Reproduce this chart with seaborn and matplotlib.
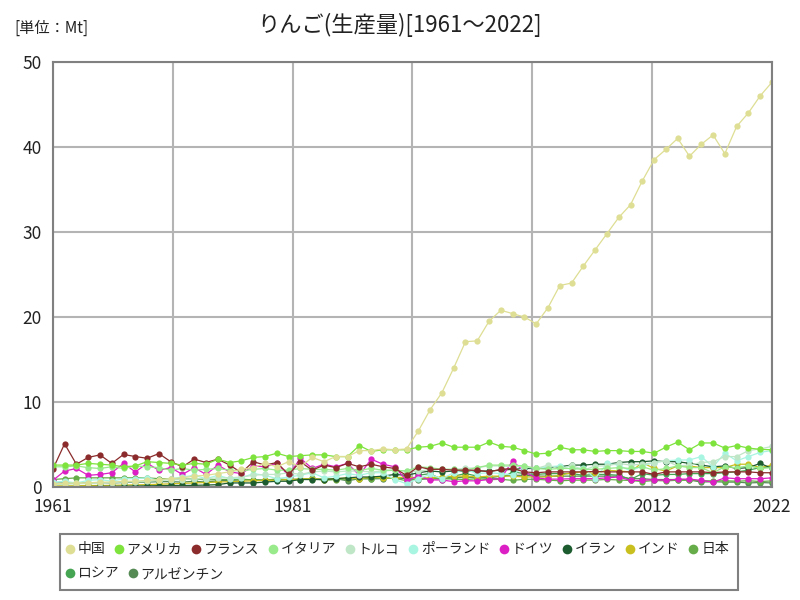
import matplotlib
matplotlib.use("Agg")
import matplotlib.pyplot as plt
from matplotlib.lines import Line2D
from matplotlib.patches import Rectangle
import seaborn as sns
import numpy as np
import pandas as pd

# Años del eje X
anios = list(range(1961, 2023))

# Series de producción (Mt)
china = [0.4, 0.45, 0.5, 0.5, 0.6, 0.6, 0.7, 0.7, 0.8, 0.9, 1.0, 1.1, 1.3, 1.4, 1.6, 1.8, 2.1, 2.3, 2.8, 2.4,
         3.0, 2.4, 3.5, 3.0, 3.6, 3.6, 4.3, 4.3, 4.5, 4.4, 4.5, 6.6, 9.1, 11.1, 14.0, 17.1, 17.2, 19.5, 20.8, 20.4,
         20.0, 19.2, 21.1, 23.7, 24.0, 26.0, 27.9, 29.8, 31.7, 33.2, 36.0, 38.5, 39.7, 41.0, 38.9, 40.3, 41.4, 39.2,
         42.4, 44.0, 46.0, 47.6]
america = [2.6, 2.6, 2.6, 2.8, 2.7, 2.6, 2.4, 2.5, 3.0, 2.9, 2.8, 2.6, 2.8, 2.7, 3.3, 2.9, 3.1, 3.5, 3.6, 4.0,
           3.6, 3.7, 3.8, 3.8, 3.6, 3.6, 4.9, 4.2, 4.4, 4.4, 4.4, 4.7, 4.8, 5.2, 4.7, 4.7, 4.7, 5.3, 4.8, 4.7,
           4.3, 3.9, 4.0, 4.7, 4.4, 4.4, 4.2, 4.3, 4.3, 4.2, 4.2, 4.0, 4.7, 5.3, 4.4, 5.2, 5.2, 4.6, 4.9, 4.6,
           4.45, 4.4]
francia = [2.1, 5.1, 2.7, 3.5, 3.8, 2.8, 3.85, 3.6, 3.4, 3.95, 3.0, 2.4, 3.3, 2.9, 3.3, 2.6, 1.7, 3.0, 2.6, 2.9,
           1.5, 3.0, 2.0, 2.6, 2.3, 2.8, 2.4, 2.7, 2.4, 2.2, 1.4, 2.4, 2.1, 2.1, 2.0, 2.0, 2.0, 1.8, 2.1, 2.2,
           1.8, 1.7, 1.8, 1.8, 1.8, 1.8, 1.85, 1.8, 1.8, 1.8, 1.8, 1.5, 1.8, 1.8, 1.8, 1.8, 1.7, 1.8, 1.8, 1.8,
           1.7, 1.7]
italia = [2.4, 2.4, 2.5, 2.3, 2.2, 2.4, 2.2, 2.5, 2.4, 2.3, 2.0, 2.2, 2.0, 2.1, 2.2, 2.0, 1.9, 2.1, 2.2, 2.0,
          2.0, 2.2, 2.1, 2.1, 2.0, 2.2, 2.0, 2.2, 2.0, 2.0, 1.9, 2.4, 2.3, 2.1, 2.1, 2.0, 2.3, 2.6, 2.6, 2.6,
          2.5, 2.2, 2.1, 2.2, 2.2, 2.1, 2.1, 2.2, 2.3, 2.2, 2.4, 2.0, 2.2, 2.5, 2.3, 2.3, 1.7, 2.4, 2.3, 2.5,
          2.2, 2.3]
turquia = [0.3, 0.35, 0.4, 0.45, 0.5, 0.55, 0.6, 0.65, 0.7, 0.8, 0.85, 0.9, 1.0, 1.0, 1.1, 1.1, 1.2, 1.4, 1.5, 1.5,
           1.7, 1.5, 1.8, 1.9, 1.8, 1.9, 1.9, 1.8, 1.9, 2.0, 1.9, 1.85, 2.1, 2.1, 2.1, 2.2, 2.3, 2.5, 2.5, 2.4,
           2.45, 2.2, 2.6, 2.1, 2.6, 2.0, 2.5, 2.5, 2.8, 2.6, 2.7, 2.9, 3.1, 2.5, 2.6, 2.9, 3.0, 3.6, 3.6, 4.3,
           4.5, 4.8]
polonia = [0.6, 0.7, 0.5, 0.8, 0.9, 0.7, 1.0, 1.0, 1.1, 0.8, 1.0, 1.2, 1.4, 1.0, 1.4, 1.0, 1.1, 1.6, 1.4, 1.0,
           1.2, 1.4, 1.7, 1.1, 1.3, 1.6, 1.4, 1.7, 1.7, 0.9, 0.4, 1.0, 1.5, 1.0, 1.7, 2.1, 1.6, 1.7, 1.6, 1.45,
           2.4, 2.2, 2.4, 2.5, 2.1, 2.3, 1.0, 2.8, 2.6, 1.9, 2.5, 2.9, 3.1, 3.2, 3.2, 3.6, 2.4, 4.0, 3.1, 3.6,
           4.1, 4.3]
alemania = [0.8, 1.9, 2.2, 1.4, 1.5, 1.7, 2.8, 1.8, 2.8, 2.0, 2.3, 1.5, 2.3, 1.5, 2.6, 1.8, 1.6, 2.5, 2.4, 2.8,
            1.4, 3.4, 2.2, 2.7, 2.4, 2.8, 1.4, 3.3, 2.7, 2.4, 0.8, 1.3, 0.85, 0.85, 0.65, 0.75, 0.75, 0.9, 1.0, 3.1,
            1.8, 1.1, 0.95, 0.95, 1.0, 1.0, 1.0, 1.1, 1.2, 0.8, 0.8, 0.9, 0.8, 0.95, 0.95, 0.8, 0.6, 1.1, 1.0, 1.0,
            1.0, 1.1]
iran = [0.05, 0.06, 0.07, 0.08, 0.09, 0.1, 0.12, 0.14, 0.16, 0.18, 0.2, 0.2, 0.22, 0.25, 0.3, 0.5, 0.5, 0.5, 0.6, 0.7,
        0.7, 0.9, 0.9, 0.9, 1.0, 1.1, 1.2, 1.2, 1.3, 1.5, 1.4, 1.7, 1.9, 1.8, 1.9, 1.9, 1.9, 1.9, 2.0, 2.1,
        2.2, 2.2, 2.3, 2.4, 2.6, 2.6, 2.7, 2.7, 2.9, 3.0, 3.0, 3.1, 3.0, 3.0, 2.8, 2.6, 2.4, 2.5, 2.2, 2.3,
        2.8, 2.2]
india = [0.15, 0.16, 0.17, 0.2, 0.2, 0.22, 0.25, 0.28, 0.3, 0.35, 0.4, 0.45, 0.5, 0.55, 0.6, 0.65, 0.7, 0.75, 0.8, 0.8,
         0.9, 0.95, 1.0, 0.9, 1.0, 1.1, 1.0, 1.2, 1.1, 1.1, 1.2, 1.1, 1.1, 1.2, 1.3, 1.3, 1.2, 1.3, 1.3, 1.3,
         1.2, 1.2, 1.2, 1.4, 1.7, 1.8, 1.6, 2.0, 1.9, 1.8, 2.9, 2.2, 1.9, 2.5, 2.5, 2.3, 2.3, 2.3, 2.7, 2.7,
         2.3, 2.6]
japon = [0.9, 1.0, 1.1, 1.1, 1.1, 1.1, 1.1, 1.1, 1.1, 1.0, 1.0, 0.95, 1.0, 0.85, 0.9, 0.9, 0.95, 0.85, 0.85, 0.95,
         0.85, 0.9, 1.05, 0.8, 0.9, 0.95, 1.0, 1.0, 1.05, 1.05, 0.76, 1.04, 1.0, 1.0, 0.96, 0.9, 1.0, 0.88, 0.93, 0.8,
         0.93, 0.93, 0.84, 0.75, 0.82, 0.83, 0.84, 0.91, 0.85, 0.79, 0.66, 0.79, 0.74, 0.82, 0.81, 0.77, 0.74, 0.76,
         0.70, 0.76, 0.66, 0.74]
rusia = [np.nan] * 31 + [1.4, 1.6, 0.9, 1.3, 1.6, 1.3, 1.0, 1.0, 1.8, 1.6, 1.5, 1.6, 1.6, 1.6, 1.4, 1.5, 1.5,
                         1.4, 0.9, 1.6, 1.4, 1.5, 1.5, 1.6, 1.6, 1.6, 1.7, 1.8, 2.0, 2.3, 2.4]
argentina = [0.45, 0.5, 0.45, 0.5, 0.55, 0.5, 0.55, 0.6, 0.6, 0.65, 0.65, 0.6, 0.7, 0.6, 0.75, 0.8, 0.85, 0.9, 0.8,
             0.95, 0.9, 0.95, 1.0, 0.95, 1.0, 0.75, 1.0, 1.0, 1.0, 1.1, 1.0, 0.9, 1.0, 1.0, 1.1, 1.2, 1.1, 1.1, 1.3,
             1.4, 1.4, 1.3, 1.3, 1.3, 1.3, 1.3, 1.3, 1.3, 1.3, 1.0, 1.0, 0.9, 0.9, 0.9, 0.85, 0.6, 0.65, 0.6, 0.6,
             0.5, 0.55, 0.5]

# Nombres de los países (en japonés, como en la leyenda) y sus colores
nombres_paises = ["中国", "アメリカ", "フランス", "イタリア", "トルコ", "ポーランド",
                  "ドイツ", "イラン", "インド", "日本", "ロシア", "アルゼンチン"]
series = [china, america, francia, italia, turquia, polonia,
          alemania, iran, india, japon, rusia, argentina]
colores = ["#dede94", "#7ee33c", "#8b2b2b", "#98ea8a", "#bfe6c6", "#a8f5e2",
           "#dc1fc4", "#1d5c2e", "#c9c01f", "#66ad4a", "#45a552", "#558a55"]

# Se arma la tabla larga para seaborn
filas = []
for nombre, valores in zip(nombres_paises, series):
    for anio, valor in zip(anios, valores):
        filas.append({"anio": anio, "pais": nombre, "valor": valor})
datos = pd.DataFrame(filas).dropna()

sns.set_style("white")
plt.rcParams["font.family"] = ["Noto Sans CJK JP", "DejaVu Sans"]

figura = plt.figure(figsize=(8, 6), dpi=100)
area_dibujo = figura.add_axes([0.066, 0.188, 0.899, 0.709])

# Se dibujan las líneas con marcadores circulares; la primera serie queda arriba
paleta = dict(zip(nombres_paises, colores))
sns.lineplot(data=datos, x="anio", y="valor", hue="pais", hue_order=nombres_paises[::-1],
             palette=paleta, marker="o", markersize=4.5, markeredgewidth=0, linewidth=0.9,
             legend=False, ax=area_dibujo)

# Ejes y cuadrícula (6 divisiones iguales, etiquetas redondeadas hacia arriba)
area_dibujo.set_xlim(1961, 2022)
area_dibujo.set_ylim(0, 50)
posiciones_x = np.linspace(1961, 2022, 7)
area_dibujo.set_xticks(posiciones_x)
area_dibujo.set_xticklabels([str(int(np.floor(p + 0.5))) for p in posiciones_x])
area_dibujo.set_yticks(range(0, 51, 10))
area_dibujo.grid(True, color="#b4b4b4", linewidth=1.5)
area_dibujo.set_axisbelow(True)
area_dibujo.tick_params(length=0, labelsize=12.5, colors="#222222", pad=8)
area_dibujo.set_xlabel("")
area_dibujo.set_ylabel("")
for borde in area_dibujo.spines.values():
    borde.set_color("#808080")
    borde.set_linewidth(1.5)

# Títulos
figura.text(0.5, 0.958, "りんご(生産量)[1961～2022]", ha="center", va="center", fontsize=16, color="#222222")
figura.text(0.018, 0.953, "[単位：Mt]", ha="left", va="center", fontsize=11, color="#222222")

# Leyenda: marco dibujado a mano y dos filas sin marco
figura.patches.append(Rectangle((0.075, 0.017), 0.8475, 0.093, transform=figura.transFigure,
                                fill=False, edgecolor="#808080", linewidth=1.5))
manijas = [Line2D([], [], linestyle="none", marker="o", markersize=7, markeredgewidth=0, color=c)
           for c in colores]
opciones_leyenda = dict(loc="upper left", frameon=False, fontsize=10, handletextpad=0.15,
                        columnspacing=0.6, handlelength=0.8, borderpad=0.0, borderaxespad=0.0)
fila_1 = figura.legend(manijas[:10], nombres_paises[:10], ncol=10,
                       bbox_to_anchor=(0.08, 0.096), **opciones_leyenda)
fila_2 = figura.legend(manijas[10:], nombres_paises[10:], ncol=2,
                       bbox_to_anchor=(0.08, 0.055), **opciones_leyenda)

figura.savefig("out.png", dpi=100)
plt.close(figura)
